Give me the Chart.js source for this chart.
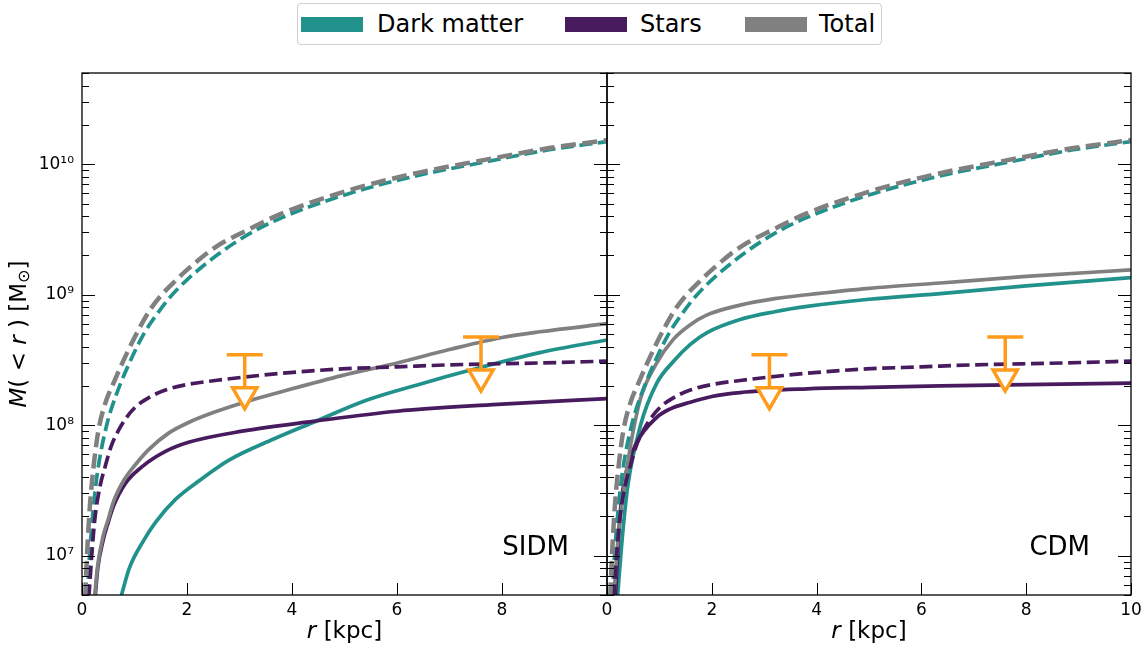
<!DOCTYPE html>
<html>
<head>
<meta charset="utf-8">
<script src="https://cdn.jsdelivr.net/npm/chart.js@4/dist/chart.umd.min.js"></script>
<style>
  body { margin: 0; width: 1143px; height: 645px; background: #fff; position: relative; overflow: hidden; font-family: "DejaVu Sans", sans-serif; }
  #left { position: absolute; left: 0; top: 60px; }
  #right { position: absolute; left: 602px; top: 60px; }
  #legend { position: absolute; left: 297px; top: 3px; width: 585px; height: 42px; border: 1px solid #d0d0d0; border-radius: 4px; box-sizing: border-box; }
  #legend .sw { position: absolute; top: 13px; width: 62px; height: 15px; }
  #legend .lb { position: absolute; top: 5px; font-size: 24px; line-height: 30px; color: #000; white-space: nowrap; }
</style>
</head>
<body>
<div id="legend">
  <span class="sw" style="left:3px;background:#21918c"></span><span class="lb" style="left:79px">Dark matter</span>
  <span class="sw" style="left:267px;background:#481b5f"></span><span class="lb" style="left:342px">Stars</span>
  <span class="sw" style="left:447px;background:#808080"></span><span class="lb" style="left:521px">Total</span>
</div>
<canvas id="left" width="612" height="585"></canvas>
<canvas id="right" width="541" height="585"></canvas>
<script>
// dashed curves (same in both panels), r in kpc, M(<r) in Msun
const totDashR = [0.06, 0.1, 0.15, 0.22, 0.31, 0.45, 0.6, 0.86, 1.1, 1.3, 1.5, 1.71, 2.0, 2.53, 3.2, 3.81, 5.08, 6.34, 7.62, 8.9, 10];
const totDashM = [4.8e6, 1.1e7, 2.4e7, 4.8e7, 9e7, 1.5e8, 2.1e8, 3.6e8, 5.6e8, 7.7e8, 9.8e8, 1.2e9, 1.55e9, 2.3e9, 3.2e9, 4.2e9, 6.3e9, 8.5e9, 1.07e10, 1.33e10, 1.53e10];
const dmDashR = [0.1, 0.15, 0.22, 0.3, 0.47, 0.65, 0.95, 1.2, 1.45, 1.68, 2.0, 2.6, 3.2, 3.81, 5.08, 6.34, 7.62, 8.9, 10];
const dmDashM = [4.8e6, 1.1e7, 2.4e7, 4.5e7, 1e8, 1.7e8, 3.3e8, 5.2e8, 7.3e8, 9.6e8, 1.3e9, 2.05e9, 2.95e9, 3.9e9, 5.95e9, 8.1e9, 1.03e10, 1.29e10, 1.49e10];
const starDashR = [0.13, 0.2, 0.25, 0.35, 0.44, 0.55, 0.7, 0.85, 1.02, 1.3, 1.59, 2.0, 2.54, 3.81, 4.95, 6.0, 7.0, 8.72, 10];
const starDashM = [4.8e6, 1.2e7, 2.0e7, 3.5e7, 4.8e7, 6.8e7, 9.2e7, 1.15e8, 1.38e8, 1.65e8, 1.86e8, 2.05e8, 2.2e8, 2.5e8, 2.7e8, 2.8e8, 2.9e8, 3.0e8, 3.1e8];

// SIDM solid curves
const sidmDmR = [0.74, 0.9, 1.17, 1.4, 1.78, 2.25, 2.8, 3.64, 4.4, 5.43, 6.5, 7.33, 8.72, 10];
const sidmDmM = [4.8e6, 8e6, 1.3e7, 1.8e7, 2.7e7, 3.8e7, 5.4e7, 7.8e7, 1.05e8, 1.56e8, 2.1e8, 2.6e8, 3.6e8, 4.5e8];
const sidmStarR = [0.25, 0.3, 0.4, 0.5, 0.6, 0.83, 1.14, 1.59, 2.03, 3.05, 4.4, 6, 8, 10];
const sidmStarM = [4.8e6, 8e6, 1.3e7, 1.8e7, 2.4e7, 3.6e7, 4.8e7, 6.3e7, 7.4e7, 9.0e7, 1.07e8, 1.28e8, 1.45e8, 1.6e8];
const sidmTotR = [0.24, 0.3, 0.4, 0.5, 0.6, 0.8, 1.02, 1.27, 1.65, 2.03, 2.5, 3.05, 4, 4.95, 6, 7, 8, 8.72, 10];
const sidmTotM = [4.8e6, 8.5e6, 1.4e7, 1.9e7, 2.6e7, 3.8e7, 5.0e7, 6.5e7, 8.7e7, 1.05e8, 1.25e8, 1.48e8, 1.9e8, 2.4e8, 3.0e8, 3.8e8, 4.7e8, 5.2e8, 6.0e8];

// CDM solid curves
const cdmDmR = [0.2, 0.3, 0.4, 0.64, 0.95, 1.27, 1.59, 1.91, 2.54, 3.2, 3.82, 5, 6.36, 8, 10];
const cdmDmM = [4.8e6, 1.5e7, 3.5e7, 1.0e8, 2.1e8, 3.09e8, 4.17e8, 5.13e8, 6.46e8, 7.41e8, 8.13e8, 9.23e8, 1.02e9, 1.17e9, 1.35e9];
const cdmStarR = [0.16, 0.25, 0.38, 0.57, 0.95, 1.2, 1.59, 2.0, 2.54, 3.82, 5, 6.36, 8, 10];
const cdmStarM = [4.8e6, 2.1e7, 4.6e7, 7.4e7, 1.15e8, 1.33e8, 1.5e8, 1.66e8, 1.78e8, 1.9e8, 1.95e8, 2.0e8, 2.05e8, 2.1e8];
const cdmTotR = [0.13, 0.2, 0.29, 0.45, 0.64, 0.95, 1.27, 1.59, 1.91, 2.54, 3.2, 3.82, 5, 6.36, 8, 10];
const cdmTotM = [4.8e6, 1.2e7, 2.6e7, 7e7, 1.6e8, 3.0e8, 4.57e8, 5.89e8, 7.0e8, 8.32e8, 9.33e8, 1.0e9, 1.12e9, 1.23e9, 1.38e9, 1.55e9];

// stellar mass upper limits
const limR = [3.1, 7.6];
const limTop = [3.46e8, 4.74e8];
const limArrow = [1.71e8, 2.34e8];

const xTicks = [0, 2, 4, 6, 8, 10];
const panelNames = ['SIDM', 'CDM'];

const teal = '#21918c', purple = '#481b5f', grey = '#808080', orange = '#ff9b1a';
const FONT = '"DejaVu Sans", sans-serif';
const SUP = '⁰¹²³⁴⁵⁶⁷⁸⁹';

function pts(r, m) {
  return r.map((x, i) => ({ x: x, y: m[i] }));
}

function curve(r, m, color, width, dash) {
  return {
    data: pts(r, m),
    borderColor: color,
    borderWidth: width,
    borderDash: dash || [],
    pointRadius: 0,
    fill: false,
    cubicInterpolationMode: 'monotone',
    clip: 0
  };
}

function limitSets() {
  const ds = [];
  ds.push({ data: pts(limR, limArrow), showLine: false, pointStyle: 'triangle', rotation: 180, pointRadius: 14,
    pointBackgroundColor: '#fff', pointBorderColor: orange, pointBorderWidth: 3.5, clip: false });
  ds.push({ data: pts(limR, limTop), showLine: false, pointStyle: 'line', pointRadius: 18,
    pointBorderColor: orange, pointBorderWidth: 3.5, clip: false });
  limR.forEach((r, i) => {
    ds.push({ data: [{ x: r, y: limTop[i] }, { x: r, y: limArrow[i] }], borderColor: orange, borderWidth: 3.5, pointRadius: 0, clip: false });
  });
  return ds;
}

function logTicks(scale) {
  const out = [];
  for (let e = 6; e <= 10; e++) {
    for (let k = 1; k <= 9; k++) {
      const v = k * Math.pow(10, e);
      if (v >= 5e6 && v <= 5e10) out.push({ value: v, major: k === 1 });
    }
  }
  scale.ticks = out;
}

function powLabel(v) {
  const e = Math.round(Math.log10(v));
  if (Math.abs(v / Math.pow(10, e) - 1) > 1e-6) return '';
  return '10' + String(e).split('').map(d => SUP[+d]).join('');
}

function richText(ctx, parts, cx, cy, angle) {
  ctx.save();
  ctx.translate(cx, cy);
  ctx.rotate(angle);
  let w = 0;
  parts.forEach(p => { ctx.font = p.font; w += ctx.measureText(p.t).width; });
  let x = -w / 2;
  ctx.textAlign = 'left';
  ctx.textBaseline = 'middle';
  ctx.fillStyle = '#000';
  parts.forEach(p => {
    ctx.font = p.font;
    ctx.fillText(p.t, x, p.dy || 0);
    x += ctx.measureText(p.t).width;
  });
  ctx.restore();
}

const framePlugin = {
  id: 'frame',
  afterDatasetsDraw(chart, args, opts) {
    const { ctx, chartArea: a, scales } = chart;
    const x = scales.x, y = scales.y;
    ctx.save();
    ctx.strokeStyle = '#000';
    ctx.lineWidth = 1;
    ctx.beginPath();
    xTicks.forEach(v => {
      const px = Math.round(x.getPixelForValue(v)) + 0.5;
      ctx.moveTo(px, a.bottom); ctx.lineTo(px, a.bottom - 12);
    });
    y.ticks.forEach(t => {
      const py = Math.round(y.getPixelForValue(t.value)) + 0.5;
      const len = t.major ? 13 : 7;
      ctx.moveTo(a.left, py); ctx.lineTo(a.left + len, py);
      ctx.moveTo(a.right, py); ctx.lineTo(a.right - len, py);
    });
    ctx.stroke();
    ctx.lineWidth = 1.3;
    ctx.strokeRect(a.left, a.top, a.right - a.left, a.bottom - a.top);

    // panel name
    ctx.fillStyle = '#000';
    ctx.font = '26px ' + FONT;
    ctx.textAlign = 'center';
    ctx.textBaseline = 'middle';
    ctx.fillText(opts.name, a.left + 0.864 * (a.right - a.left), a.bottom - 47);

    // x title
    const f = '23px ' + FONT, fi = 'italic 23px ' + FONT;
    richText(ctx, [{ t: 'r', font: fi }, { t: ' [kpc]', font: f }], (a.left + a.right) / 2, a.bottom + 37, 0);
    if (opts.yTitle) {
      richText(ctx, [
        { t: 'M', font: fi }, { t: '( < ', font: f }, { t: 'r', font: fi }, { t: ' ) [M', font: f },
        { t: '⊙', font: '16px ' + FONT, dy: 5 }, { t: ']', font: f }
      ], 20, (a.top + a.bottom) / 2, -Math.PI / 2);
    }
    ctx.restore();
  }
};

function makeChart(id, panel) {
  const left = panel === 0;
  const dmR = left ? sidmDmR : cdmDmR, dmM = left ? sidmDmM : cdmDmM;
  const stR = left ? sidmStarR : cdmStarR, stM = left ? sidmStarM : cdmStarM;
  const toR = left ? sidmTotR : cdmTotR, toM = left ? sidmTotM : cdmTotM;
  const datasets = limitSets().concat([
    curve(totDashR, totDashM, grey, 4.5, [15, 6.5]),
    curve(starDashR, starDashM, purple, 3.7, [13, 5.6]),
    curve(dmDashR, dmDashM, teal, 3.7, [13, 5.6]),
    curve(toR, toM, grey, 3.7),
    curve(stR, stM, purple, 3.7),
    curve(dmR, dmM, teal, 3.7)
  ]);
  const tickFont = { family: FONT, size: 17 };
  return new Chart(document.getElementById(id), {
    type: 'line',
    data: { datasets: datasets },
    options: {
      responsive: false,
      animation: false,
      events: [],
      layout: { autoPadding: false, padding: { top: 13, right: left ? 5 : 12, left: 0, bottom: 0 } },
      plugins: {
        legend: { display: false },
        tooltip: { enabled: false },
        frame: { name: panelNames[panel], yTitle: left }
      },
      scales: {
        x: {
          type: 'linear', min: 0, max: 10,
          afterBuildTicks: s => { s.ticks = xTicks.map(v => ({ value: v })); },
          ticks: { callback: v => (left && v === 10) ? '' : String(v), autoSkip: false, maxRotation: 0, font: tickFont, color: '#000', padding: 5 },
          grid: { display: false, drawTicks: false },
          border: { display: false },
          afterFit: s => { s.height = 50; s.paddingLeft = 0; s.paddingRight = 0; }
        },
        y: {
          type: 'logarithmic', min: 5e6, max: 5e10,
          afterBuildTicks: logTicks,
          ticks: { display: left, callback: v => powLabel(v), autoSkip: false, font: tickFont, color: '#000', padding: 8 },
          grid: { display: false, drawTicks: false },
          border: { display: false },
          afterFit: s => { s.width = left ? 82 : 5; s.paddingTop = 0; s.paddingBottom = 0; }
        }
      }
    },
    plugins: [framePlugin]
  });
}

makeChart('left', 0);
makeChart('right', 1);
</script>
</body>
</html>
